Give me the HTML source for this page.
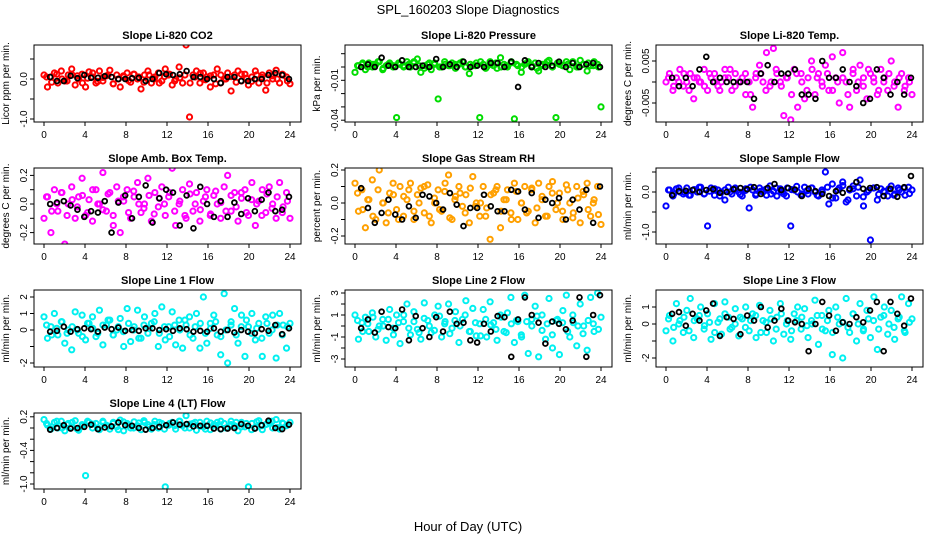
<!DOCTYPE html>
<html><head><meta charset="utf-8">
<style>
html,body{margin:0;padding:0;background:#fff;}
svg{display:block;font-family:"Liberation Sans",Arial,sans-serif;}
</style></head>
<body>
<svg id="chart" width="936" height="540" viewBox="0 0 936 540">
<text x="468" y="14" text-anchor="middle" font-size="13">SPL_160203  Slope Diagnostics</text>
<text x="468" y="531" text-anchor="middle" font-size="13">Hour of Day (UTC)</text>
</svg>
<script>
const xTicks = [0,4,8,12,16,20,24];
const titles = ["Slope Li-820 CO2","Slope Li-820 Pressure","Slope Li-820 Temp.","Slope Amb. Box Temp.","Slope Gas Stream RH","Slope Sample Flow","Slope Line 1 Flow","Slope Line 2 Flow","Slope Line 3 Flow","Slope Line 4 (LT) Flow"];
const yTitles = ["Licor ppm per min.","kPa per min.","degrees C per min.","degrees C per min.","percent per min.","ml/min per min.","ml/min per min.","ml/min per min.","ml/min per min.","ml/min per min."];
const yTickVals = [[-1,-0.5,0,0.5],[0.01,0,-0.01,-0.02,-0.03,-0.04],[0.005,0,-0.005],[0.2,0.1,0,-0.1,-0.2],[0.2,0.1,0,-0.1,-0.2],[0.5,0,-0.5,-1],[2,1,0,-1,-2],[3,2,1,0,-1,-2,-3],[1,0,-1,-2],[0.2,0,-0.2,-0.4,-0.6,-0.8,-1.0]];
const yTickLabels = [["-1.0","","0.0",""],["","","-0.01","","","-0.04"],["0.005","","-0.005"],["0.2","","0.0","","-0.2"],["0.2","","0.0","","-0.2"],["","0.0","","-1.0"],["2","1","0","","-2"],["3","","1","","-1","","-3"],["1","0","","-2"],["0.2","","","-0.4","","","-1.0"]];
const seriesColors = ["#ff0000","#00dd00","#ff00ff","#ff00ff","#ffa000","#0000ff","#00f0f0","#00f0f0","#00f0f0","#00f0f0"];
const colored = [
[0.1,-0.2,0.05,0.15,-0.1,0.2,-0.05,0.1,0.25,-0.15,0.0,0.12,-0.2,0.18,0.05,-0.1,0.2,-0.05,0.08,0.22,-0.12,0.1,-0.2,0.05,0.15,-0.08,0.12,0.0,-0.25,0.1,0.2,-0.1,0.05,0.15,-0.05,0.25,0.1,-0.15,0.0,0.3,-0.1,0.85,-0.95,0.1,0.2,-0.1,0.15,0.05,-0.2,0.1,0.25,-0.1,0.0,0.15,-0.3,0.1,0.2,-0.05,0.12,-0.15,0.05,0.2,-0.1,0.1,-0.28,0.15,0.0,0.22,-0.1,0.1,0.05,-0.12],
[-0.004,0.001,0.002,-0.002,0.003,0.0,0.002,0.004,-0.002,0.001,0.003,0.0,-0.038,0.002,0.001,0.004,0.0,0.003,0.006,-0.004,0.001,0.002,-0.002,0.003,-0.024,0.0,0.002,0.001,0.003,-0.001,0.002,0.004,0.0,-0.005,0.001,0.003,-0.038,0.002,0.0,0.004,0.001,-0.001,0.007,0.002,0.0,0.003,-0.039,0.001,-0.004,0.002,0.004,0.0,0.003,-0.003,0.001,0.002,0.005,0.0,-0.038,0.002,0.001,0.004,-0.002,0.003,0.0,0.005,0.002,-0.003,0.001,0.004,0.002,-0.03],
[0.0,0.002,-0.002,0.001,0.003,-0.001,0.0,0.002,-0.004,0.001,0.0,0.003,-0.002,0.001,0.002,-0.001,0.0,0.003,0.001,-0.002,0.002,0.0,0.001,-0.003,0.0,-0.006,0.002,0.004,0.0,0.007,-0.001,0.008,0.002,0.0,-0.008,0.001,-0.009,0.003,-0.006,0.002,-0.004,0.001,0.005,-0.003,0.002,0.0,0.004,-0.002,0.006,0.001,-0.005,0.007,0.0,-0.006,0.003,-0.002,0.004,0.001,-0.004,0.002,0.0,-0.003,0.003,0.001,-0.002,0.005,0.0,-0.006,0.002,-0.001,0.001,-0.003],
[-0.1,0.05,-0.2,0.1,-0.05,0.08,-0.28,0.0,0.12,-0.1,0.05,0.18,-0.08,0.03,-0.12,0.1,0.0,0.22,-0.05,0.08,-0.15,0.12,-0.2,0.02,0.1,-0.1,0.05,0.15,-0.06,0.0,0.18,-0.12,0.08,-0.02,0.12,-0.08,0.05,0.25,-0.15,0.0,0.1,-0.1,0.14,-0.05,0.08,-0.12,0.02,0.1,-0.08,0.06,0.0,-0.1,0.12,0.2,-0.05,0.08,-0.12,0.04,0.1,-0.08,0.15,-0.15,0.02,0.1,-0.06,0.12,0.0,-0.1,0.15,-0.02,0.08,-0.1],
[0.12,-0.05,0.08,-0.15,0.02,0.14,-0.1,0.2,0.0,-0.12,0.06,0.12,-0.04,0.1,-0.08,0.02,0.12,-0.1,0.05,0.09,-0.06,0.11,-0.12,0.0,0.08,-0.05,0.12,0.17,-0.1,0.04,0.1,-0.02,0.05,-0.12,0.16,0.0,-0.08,0.1,-0.03,-0.22,0.06,0.1,-0.15,0.02,0.08,-0.06,0.12,-0.1,0.0,0.1,-0.05,0.08,-0.12,0.12,0.02,-0.08,0.1,0.13,-0.04,0.06,-0.1,0.11,0.0,-0.06,0.1,-0.12,0.05,0.12,-0.08,0.02,0.1,-0.13],
[-0.35,0.05,-0.1,0.08,0.0,-0.05,0.1,-0.08,0.05,0.0,0.12,-0.05,-0.85,0.1,-0.08,0.05,0.0,-0.2,0.12,-0.05,0.06,0.0,-0.1,0.08,-0.4,0.05,-0.05,0.1,0.0,-0.08,0.15,0.02,-0.1,0.08,-0.05,0.1,-0.85,0.05,0.0,-0.08,0.12,-0.05,0.1,0.0,-0.1,0.05,0.5,-0.3,0.2,-0.15,0.1,0.25,-0.25,0.05,0.15,-0.1,0.3,-0.35,0.0,-1.2,0.1,-0.2,0.08,0.0,-0.1,0.15,-0.05,0.1,0.0,-0.08,0.12,0.05],
[0.8,-0.5,0.2,1.0,-0.3,0.5,-0.8,0.0,-1.2,1.1,-0.2,0.9,-0.6,0.4,0.8,-0.4,1.2,-0.9,0.3,0.6,-0.3,0.0,0.7,-1.0,1.3,-0.7,0.2,1.2,-0.5,0.8,-0.2,0.4,1.0,-1.0,1.4,-0.6,0.2,1.1,-0.9,0.6,-1.1,0.3,0.8,-0.5,1.0,-1.1,2.0,-0.8,0.4,0.9,-0.3,-1.5,2.2,-2.0,0.5,1.3,-0.8,0.9,-1.6,0.2,1.0,-0.6,0.4,-1.6,0.8,-0.2,0.9,-1.7,1.0,0.3,-1.1,0.4],
[1.0,-1.2,0.3,0.8,-0.5,1.2,-1.0,0.0,0.6,-1.3,1.5,-0.2,1.0,-1.6,0.4,2.0,-0.8,1.3,-0.3,-1.2,2.1,0.5,-0.6,1.0,1.8,-1.0,0.4,2.0,-0.2,1.3,-1.5,0.6,2.3,-0.5,1.6,-0.9,0.2,1.5,-1.0,2.2,0.3,-1.3,1.0,-0.5,1.2,2.6,-1.5,0.4,-0.8,2.8,-2.5,0.6,1.8,-2.8,1.0,-1.2,2.5,-2.0,0.5,-2.6,1.4,2.8,-1.0,0.3,-1.8,2.0,0.0,-2.2,2.6,-0.5,3.0,0.8],
[-0.4,0.5,-1.0,1.2,0.2,-0.5,0.8,1.5,-0.8,0.3,1.0,-0.3,0.6,-0.9,1.2,0.1,-0.6,1.3,0.4,-0.2,0.9,-0.7,0.3,1.0,-0.4,0.6,-0.8,1.1,0.2,-0.5,0.8,-1.0,0.4,1.2,-0.6,0.2,-0.9,0.6,1.0,-0.3,0.9,-0.8,0.2,1.4,-1.2,0.5,-0.4,0.8,-1.8,1.0,0.0,-2.0,1.5,-0.5,0.6,-1.0,1.2,-0.3,0.8,-0.8,1.6,-1.5,0.4,1.0,-0.6,0.8,-0.9,0.3,1.6,-0.5,1.2,0.3],
[0.15,0.05,-0.02,0.1,0.0,0.12,-0.05,0.08,0.02,0.13,-0.04,0.06,-0.85,0.1,0.0,0.08,-0.03,0.12,0.05,-0.02,0.1,0.02,0.14,-0.05,0.08,0.0,0.11,0.04,-0.03,0.1,0.06,-0.02,0.12,0.0,0.08,-1.05,0.05,0.1,-0.02,0.12,0.04,0.22,0.0,0.08,-0.04,0.1,0.02,0.12,-0.03,0.06,0.1,-0.02,0.08,0.0,0.12,0.04,-0.05,0.1,0.02,-1.05,0.08,0.0,0.13,-0.03,0.06,0.1,0.0,0.15,-0.02,0.08,0.04,0.1]
];
/* dense core of each colored series (second sample set, 48 points) */
const coreSeries = [
[0.05,-0.08,0.12,0.0,-0.05,0.1,0.08,-0.1,0.02,0.15,-0.06,0.04,0.1,-0.12,0.0,0.08,-0.04,0.12,0.05,-0.08,0.1,0.0,-0.1,0.06,0.12,-0.05,0.03,0.1,-0.1,0.05,0.14,-0.02,0.08,-0.12,0.1,0.0,0.06,-0.08,0.12,0.02,-0.06,0.1,0.04,-0.1,0.08,0.0,0.12,-0.05],
[0.001,0.003,0.0,0.002,0.004,-0.001,0.002,0.001,0.003,0.0,0.002,0.004,0.001,-0.001,0.003,0.002,0.0,0.004,0.001,0.002,0.003,0.0,0.002,0.001,0.004,-0.001,0.002,0.003,0.0,0.001,0.004,0.002,0.0,0.003,0.001,-0.001,0.002,0.004,0.0,0.003,0.001,0.002,0.004,0.0,0.002,0.003,0.001,0.0],
[0.001,-0.001,0.0,0.002,-0.002,0.001,0.0,-0.001,0.002,0.0,-0.002,0.001,0.003,-0.001,0.0,0.002,-0.003,0.001,0.002,-0.002,0.0,0.003,-0.001,0.001,-0.003,0.002,0.0,-0.002,0.003,0.001,-0.001,0.002,-0.002,0.0,0.001,-0.003,0.002,0.0,-0.001,0.003,0.001,-0.002,0.0,0.002,-0.001,0.001,-0.002,0.0],
[0.05,-0.05,0.0,0.08,-0.08,0.03,-0.02,0.06,-0.06,0.1,0.0,-0.04,0.07,-0.08,0.02,0.05,-0.06,0.09,0.0,-0.03,0.06,-0.07,0.04,0.0,0.08,-0.05,0.02,-0.08,0.07,0.0,-0.04,0.05,-0.07,0.09,0.01,-0.05,0.06,-0.02,0.08,-0.06,0.03,0.0,-0.08,0.07,-0.03,0.05,-0.06,0.02],
[0.06,-0.04,0.02,-0.08,0.08,0.0,-0.06,0.05,-0.1,0.04,0.08,-0.05,0.0,0.1,-0.08,0.03,-0.04,0.07,-0.09,0.02,0.06,-0.06,0.09,-0.02,0.0,-0.08,0.05,0.08,-0.05,0.02,-0.1,0.07,0.0,-0.06,0.09,-0.03,0.04,-0.08,0.06,0.0,-0.05,0.08,-0.09,0.03,0.07,-0.04,0.0,-0.07],
[0.05,-0.05,0.1,0.0,-0.08,0.06,0.12,-0.04,0.02,0.08,-0.1,0.05,0.0,0.1,-0.06,0.04,0.12,-0.08,0.02,0.07,-0.05,0.1,0.0,-0.1,0.06,0.14,-0.05,0.03,0.1,-0.08,0.0,0.12,-0.15,0.05,0.16,-0.2,0.08,0.12,-0.12,0.04,0.1,-0.06,0.02,0.08,-0.08,0.05,0.1,-0.04],
[0.3,-0.3,0.1,0.5,-0.2,0.2,0.0,-0.4,0.4,0.1,-0.2,0.3,0.6,-0.3,0.2,-0.1,0.4,0.0,-0.5,0.3,0.1,0.5,-0.2,0.2,-0.4,0.3,0.0,0.6,-0.3,0.2,0.4,-0.2,0.1,0.5,-0.4,0.0,0.3,-0.3,0.2,0.6,-0.2,0.1,-0.5,0.4,0.0,0.3,-0.3,0.2],
[0.5,-0.5,0.2,0.8,-0.3,0.0,0.6,-0.8,0.3,1.0,-0.2,0.4,-0.6,0.7,0.0,-0.4,0.9,0.2,-0.7,0.5,0.0,1.0,-0.5,0.3,-0.9,0.6,0.1,-0.3,0.8,-0.6,0.2,0.5,-1.0,0.4,0.0,0.9,-0.4,0.2,-0.8,0.6,0.3,-0.5,1.0,0.0,-0.7,0.5,0.2,-0.3],
[0.3,-0.2,0.0,0.4,-0.4,0.2,0.5,-0.1,0.1,-0.5,0.3,0.6,-0.3,0.0,0.4,-0.2,0.2,0.5,-0.5,0.1,0.3,-0.3,0.6,0.0,-0.4,0.2,0.4,-0.1,0.0,0.5,-0.3,0.2,-0.5,0.4,0.1,-0.2,0.6,0.0,-0.4,0.3,0.2,-0.3,0.5,0.0,-0.2,0.4,-0.4,0.1],
[0.08,0.02,0.12,0.0,0.06,0.1,-0.02,0.04,0.12,0.07,0.0,0.1,0.03,0.08,-0.03,0.11,0.05,0.0,0.09,0.13,0.02,0.06,0.1,-0.02,0.08,0.04,0.12,0.0,0.07,0.1,0.03,-0.02,0.09,0.05,0.12,0.0,0.06,0.1,0.02,0.08,-0.03,0.11,0.04,0.07,0.12,0.01,0.09,0.05]
];
const blackSeries = [
[0.05,-0.05,-0.05,0.08,0.02,0.1,0.03,0.03,0.07,0.05,0.0,0.0,0.02,0.03,-0.05,0.0,0.15,0.12,0.1,0.12,0.2,0.05,0.05,0.0,0.0,-0.1,0.05,0.05,-0.05,-0.05,0.0,0.0,0.1,0.15,0.1,0.0],
[0.0,0.002,0.0,0.007,0.001,0.0,0.005,0.0,0.0,0.001,0.0,0.006,0.0,0.002,0.0,0.004,0.0,0.001,0.0,0.003,0.003,0.0,0.004,-0.015,0.005,0.0,0.003,0.0,0.001,0.004,0.0,0.003,0.0,0.002,0.003,0.0],
[0.001,-0.001,0.001,-0.001,0.003,0.006,0.0,0.001,0.0,0.0,0.0,0.0,-0.004,0.002,0.004,0.0,0.002,0.002,0.003,-0.003,-0.003,-0.004,0.005,0.001,0.001,0.003,0.0,-0.001,-0.005,-0.004,0.003,0.001,-0.003,0.0,-0.003,0.001],
[0.0,0.01,0.02,-0.01,-0.04,-0.09,-0.05,-0.06,0.02,-0.2,0.01,0.06,-0.1,0.05,0.13,-0.13,0.04,0.1,0.08,-0.15,0.06,-0.17,0.12,0.0,-0.09,0.02,-0.09,0.01,-0.07,0.04,-0.05,0.03,0.08,-0.05,-0.04,0.05],
[0.09,-0.03,-0.12,-0.06,0.02,-0.07,-0.1,-0.02,-0.09,0.05,0.04,0.0,-0.04,0.06,-0.01,-0.14,-0.03,-0.03,0.05,-0.02,-0.05,-0.05,0.08,0.07,-0.04,0.06,-0.09,0.02,0.0,0.03,-0.1,0.02,-0.04,0.08,-0.12,0.1],
[-0.08,0.02,0.03,0.05,0.0,0.05,0.07,-0.02,0.0,0.07,0.1,0.07,0.12,-0.05,0.1,0.2,0.05,0.1,0.06,-0.1,0.08,0.02,-0.05,-0.1,0.02,-0.02,0.08,0.25,0.08,0.1,0.12,-0.1,0.08,-0.12,0.12,0.4],
[-0.1,-0.05,0.2,-0.1,0.05,0.1,0.05,-0.1,0.15,0.05,0.15,-0.05,0.0,-0.05,0.1,0.1,0.0,0.05,-0.05,0.1,0.05,-0.1,-0.05,-0.1,0.1,-0.1,0.0,-0.15,0.0,-0.1,-0.2,0.05,-0.05,0.3,-0.25,0.1],
[-0.2,0.6,-0.6,1.3,-0.1,-0.2,1.5,-1.3,0.9,-0.2,-1.0,0.8,-0.5,1.3,0.2,0.3,-1.3,-1.5,0.2,-0.5,0.9,0.8,-2.8,0.6,2.6,1.0,0.3,-1.6,0.4,0.2,-0.3,0.5,2.6,-2.8,1.0,2.8],
[0.6,0.7,-0.1,0.6,0.2,0.8,1.2,-0.7,0.4,0.3,-0.6,0.5,0.2,1.0,-0.2,0.2,0.9,0.2,0.1,0.0,-1.6,0.0,1.3,0.5,-0.4,0.1,0.0,0.4,0.1,0.8,1.3,-1.6,1.3,0.6,-0.1,1.5],
[-0.03,0.0,0.05,-0.01,0.0,0.02,0.06,-0.02,0.01,0.03,0.1,0.05,0.04,0.0,-0.03,0.0,0.02,0.05,0.1,0.06,0.07,0.03,0.04,0.04,-0.01,-0.02,-0.01,0.0,0.07,0.04,-0.01,0.05,0.13,0.0,-0.02,0.06]
];
/* layout (pixels) */
const colX0 = [44,355,666];
const rowBox = [[45,122],[168,244],[290,367],[413,489]];
const yRef = [[0,79,40],[0,67,1330],[0,82,4200],[0,204,143],[0,203,165],[0,192,40],[0,330,16.5],[0,326,11],[0,324,17],[0,428,56]];
const NS = "http://www.w3.org/2000/svg";
const svg = document.getElementById('chart');
function mk(tag, attrs, parent){const e=document.createElementNS(NS,tag);for(const k in attrs)e.setAttribute(k,attrs[k]);(parent||svg).appendChild(e);return e;}

for (let p=0;p<10;p++){
  const col=p%3, row=Math.floor(p/3);
  const x0=colX0[col], xs=246/24;
  const bx=x0-10, bw=267, by=rowBox[row][0], bh=rowBox[row][1]-rowBox[row][0];
  const g=mk('g',{});
  
  
  const X=h=>x0+h*xs;
  const Y=v=>yRef[p][1]-(v-yRef[p][0])*yRef[p][2];
  const cp=mk('clipPath',{id:'cp'+p},g);
  mk('rect',{x:bx,y:by,width:bw,height:bh},cp);
  const t=mk('text',{x:bx+bw/2,y:by-6,'text-anchor':'middle','font-size':'11','font-weight':'bold'},g);
  t.textContent=titles[p];
  
  
  const yt=mk('text',{transform:`translate(${bx-25},${by+bh/2}) rotate(-90)`,'text-anchor':'middle','font-size':'10'},g);
  yt.textContent=yTitles[p];
  
  
  const pts=mk('g',{'clip-path':`url(#cp${p})`},g);
  
  
  const cv=colored[p];
  cv.forEach((v,i)=>{
    const c=mk('circle',{cx:X(i*24/(cv.length-1)),cy:Y(v),r:2.6,fill:'none',stroke:seriesColors[p],'stroke-width':2},pts);
    
    
  });
  const cs=coreSeries[p];
  cs.forEach((v,i)=>{
    const c=mk('circle',{cx:X(0.25+i*23.5/(cs.length-1)),cy:Y(v),r:2.6,fill:'none',stroke:seriesColors[p],'stroke-width':2},pts);
    
    
  });
  const bk=mk('g',{'clip-path':`url(#cp${p})`},g);
  
  
  const bv=blackSeries[p];
  bv.forEach((v,i)=>{
    const c=mk('circle',{cx:X(0.6+i*23.3/(bv.length-1)),cy:Y(v),r:2.4,fill:'none',stroke:'#000','stroke-width':1.8},bk);
    
    
  });
  const box=mk('rect',{x:bx,y:by,width:bw,height:bh,fill:'none',stroke:'#000','stroke-width':1},g);
  
  
  xTicks.forEach(h=>{
    mk('line',{x1:X(h),x2:X(h),y1:by+bh,y2:by+bh+4,stroke:'#000'},g);
    const l=mk('text',{x:X(h),y:by+bh+16,'text-anchor':'middle','font-size':'10'},g);
    l.textContent=h;
    
    
  });
  yTickVals[p].forEach((v,i)=>{
    const yy=Y(v);
    mk('line',{x1:bx-4,x2:bx,y1:yy,y2:yy,stroke:'#000'},g);
    if(yTickLabels[p][i]){
      const l=mk('text',{transform:`translate(${bx-7},${yy}) rotate(-90)`,'text-anchor':'middle','font-size':'10'},g);
      l.textContent=yTickLabels[p][i];
      
      
    }
  });
}
</script>
</body></html>
